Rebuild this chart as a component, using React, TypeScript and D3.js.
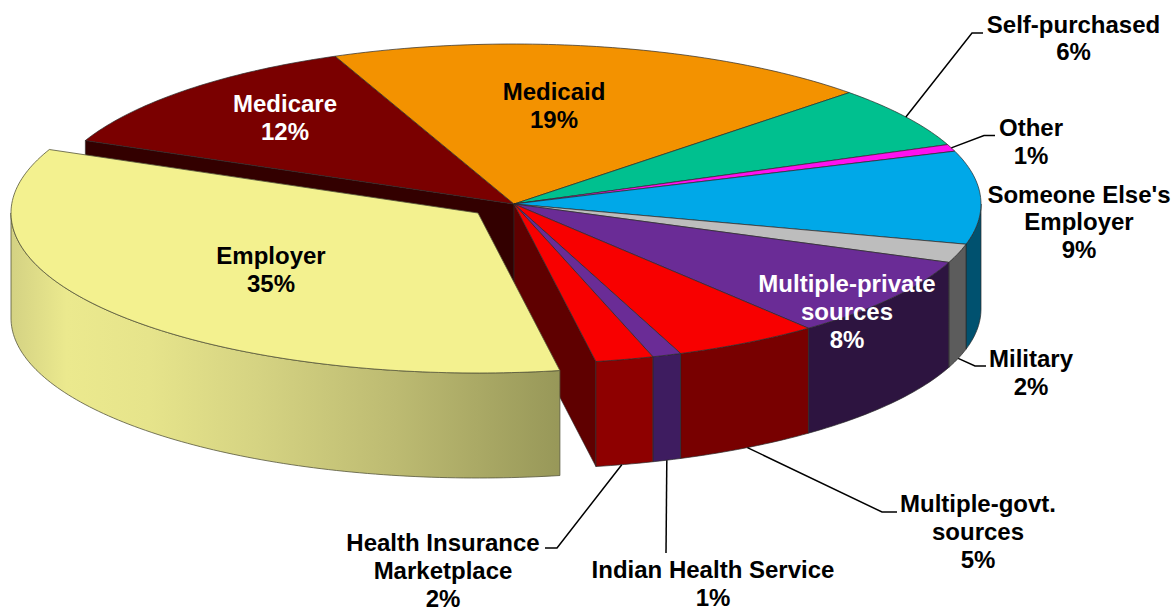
import React from "react";
import * as d3 from "d3";

// ---- data (pie order, clockwise from the front of the Employer slice)
const categories = [
  "Employer", "Medicare", "Medicaid", "Self-purchased", "Other", "Someone Else's Employer",
  "Military", "Multiple-private sources", "Multiple-govt. sources", "Indian Health Service",
  "Health Insurance Marketplace",
];
const shares = [34.3, 12.25, 19.0, 6.2, 0.7, 9.4, 1.9, 8.2, 5.05, 1.0, 2.0];
const percentLabels = ["35%", "12%", "19%", "6%", "1%", "9%", "2%", "8%", "5%", "1%", "2%"];
const topColors = ["#F3F18F", "#7A0000", "#F39200", "#00C08F", "#FF10F0", "#00A8E8", "#BDBDBD", "#6A2C96", "#F80000", "#6A2C96", "#F80000"];
const sideColors = ["url(#empSide)", "#330000", "#7a4900", "#006048", "#800878", "#00516F", "#5C5C5C", "#2D1440", "#780000", "#3E1C60", "#8E0000"];

// ---- label text and layout
const labelLines = [
  ["Employer"], ["Medicare"], ["Medicaid"], ["Self-purchased"], ["Other"], ["Someone Else's", "Employer"],
  ["Military"], ["Multiple-private", "sources"], ["Multiple-govt.", "sources"], ["Indian Health Service"],
  ["Health Insurance", "Marketplace"],
];
const labelX = [271, 285, 554, 1073.5, 1031, 1079, 1031, 847, 978, 713, 443];
const labelY = [264, 112, 100, 32.5, 136, 202.5, 367, 292, 512, 578, 551];
const labelColor = ["#000", "#fff", "#000", "#000", "#000", "#000", "#000", "#fff", "#000", "#000", "#000"];
// leader: fraction along the slice's arc where it leaves, on top (0) or bottom rim (1), then elbow and end points
const leaders: { i: number; f: number; rim: number; pts: [number, number][] }[] = [
  { i: 3, f: 0.5, rim: 0, pts: [[972, 33], [983, 33]] },
  { i: 4, f: 0.5, rim: 0, pts: [[984, 135.5], [995, 135.5]] },
  { i: 6, f: 0.5, rim: 1, pts: [[975, 366], [986, 366]] },
  { i: 8, f: 0.5, rim: 1, pts: [[882, 512], [897, 512]] },
  { i: 9, f: 0.5, rim: 1, pts: [[666, 553]] },
  { i: 10, f: 0.55, rim: 1, pts: [[557, 548], [545, 548]] },
];

const W = 1175, H = 609;
const CX = 514, CY = 204, RX = 467, RY = 160, DEPTH = 105;
const EX = -36, EY = 9; // Employer explosion
const START = (79.9 * Math.PI) / 180;
const FONT_SIZE = 24, LINE_STEP = 27.8;

const xS = d3.scaleLinear().domain([-1, 1]).range([-RX, RX]);
const yS = d3.scaleLinear().domain([-1, 1]).range([-RY, RY]);
const arcs = d3.pie<number>().sort(null).startAngle(START).endAngle(START + Math.PI * 2)(shares);
const line = d3.line<[number, number]>();

const pt = (a: number, ox = 0, oy = 0): [number, number] => [
  CX + ox + xS(Math.cos(a)),
  CY + oy + yS(Math.sin(a)),
];
const arcPts = (a0: number, a1: number, ox = 0, oy = 0) => {
  const n = Math.max(2, Math.ceil(((a1 - a0) * 180) / Math.PI));
  return d3.range(n + 1).map((k) => pt(a0 + ((a1 - a0) * k) / n, ox, oy));
};
const topPath = (a0: number, a1: number, ox = 0, oy = 0) =>
  line([[CX + ox, CY + oy], ...arcPts(a0, a1, ox, oy)]) + "Z";
const wallPaths = (a0: number, a1: number, ox = 0, oy = 0) =>
  [0, 2 * Math.PI].flatMap((k) => {
    const lo = Math.max(a0, k), hi = Math.min(a1, k + Math.PI);
    if (hi <= lo) return [];
    return [line([...arcPts(lo, hi, ox, oy), ...arcPts(lo, hi, ox, oy + DEPTH).reverse()]) + "Z"];
  });

const STROKE = "#2a2a2a";

export default function App() {
  const emp = arcs[0];
  const med = arcs[1];
  const him = arcs[10];
  const medEdge = pt(med.startAngle);
  const himEdge = pt(him.endAngle);
  const FONT = "'Liberation Sans', Arial, sans-serif";
  return (
    <svg width={W} height={H} viewBox={`0 0 ${W} ${H}`} style={{ position: "absolute", left: 0, top: 0, display: "block", background: "#fff" }}>
      <defs>
        <linearGradient id="empSide" gradientUnits="userSpaceOnUse" x1={12} x2={558} y1={0} y2={0}>
          <stop offset="0" stopColor="#D4D283" />
          <stop offset="0.1" stopColor="#EBE98E" />
          <stop offset="0.25" stopColor="#E6E48B" />
          <stop offset="0.45" stopColor="#D5D382" />
          <stop offset="0.7" stopColor="#BDBB72" />
          <stop offset="1" stopColor="#989859" />
        </linearGradient>
      </defs>

      {/* interior faces left open by the pulled-out slice */}
      <path
        d={line([[CX, CY], medEdge, [medEdge[0], medEdge[1] + DEPTH], [CX, CY + DEPTH]]) + "Z"}
        fill={sideColors[1]} stroke={STROKE} strokeWidth={0.6}
      />
      <path
        d={line([[CX, CY], himEdge, [himEdge[0], himEdge[1] + DEPTH], [CX, CY + DEPTH]]) + "Z"}
        fill="#5F0000" stroke={STROKE} strokeWidth={0.6}
      />

      {/* outer walls */}
      {arcs.slice(1).map((a, i) =>
        wallPaths(a.startAngle, a.endAngle).map((d, k) => (
          <path key={`w${i}-${k}`} d={d} fill={sideColors[i + 1]} stroke={STROKE} strokeWidth={0.7} />
        ))
      )}
      {/* top faces */}
      {arcs.slice(1).map((a, i) => (
        <path key={`t${i}`} d={topPath(a.startAngle, a.endAngle)} fill={topColors[i + 1]} stroke={STROKE} strokeWidth={0.7} strokeLinejoin="round" />
      ))}

      {/* Employer, pulled out */}
      {wallPaths(emp.startAngle, emp.endAngle, EX, EY).map((d, k) => (
        <path key={`ew${k}`} d={d} fill={sideColors[0]} stroke="#55553a" strokeWidth={0.8} />
      ))}
      <path d={topPath(emp.startAngle, emp.endAngle, EX, EY)} fill={topColors[0]} stroke="#55553a" strokeWidth={0.8} strokeLinejoin="round" />

      {/* leader lines */}
      {leaders.map((l) => {
        const a = arcs[l.i];
        const p = pt(a.startAngle + (a.endAngle - a.startAngle) * l.f, 0, l.rim * DEPTH);
        return <path key={`l${l.i}`} d={line([p, ...l.pts]) ?? ""} fill="none" stroke="#000" strokeWidth={1.5} />;
      })}

      {/* labels */}
      <g fontFamily={FONT} fontWeight={700} fontSize={FONT_SIZE} textAnchor="middle">
        {categories.map((c, i) => (
          <text key={c} x={labelX[i]} y={labelY[i]} fill={labelColor[i]}>
            {[...labelLines[i], percentLabels[i]].map((t, k) => (
              <tspan key={k} x={labelX[i]} y={labelY[i] + k * LINE_STEP}>{t}</tspan>
            ))}
          </text>
        ))}
      </g>
    </svg>
  );
}
